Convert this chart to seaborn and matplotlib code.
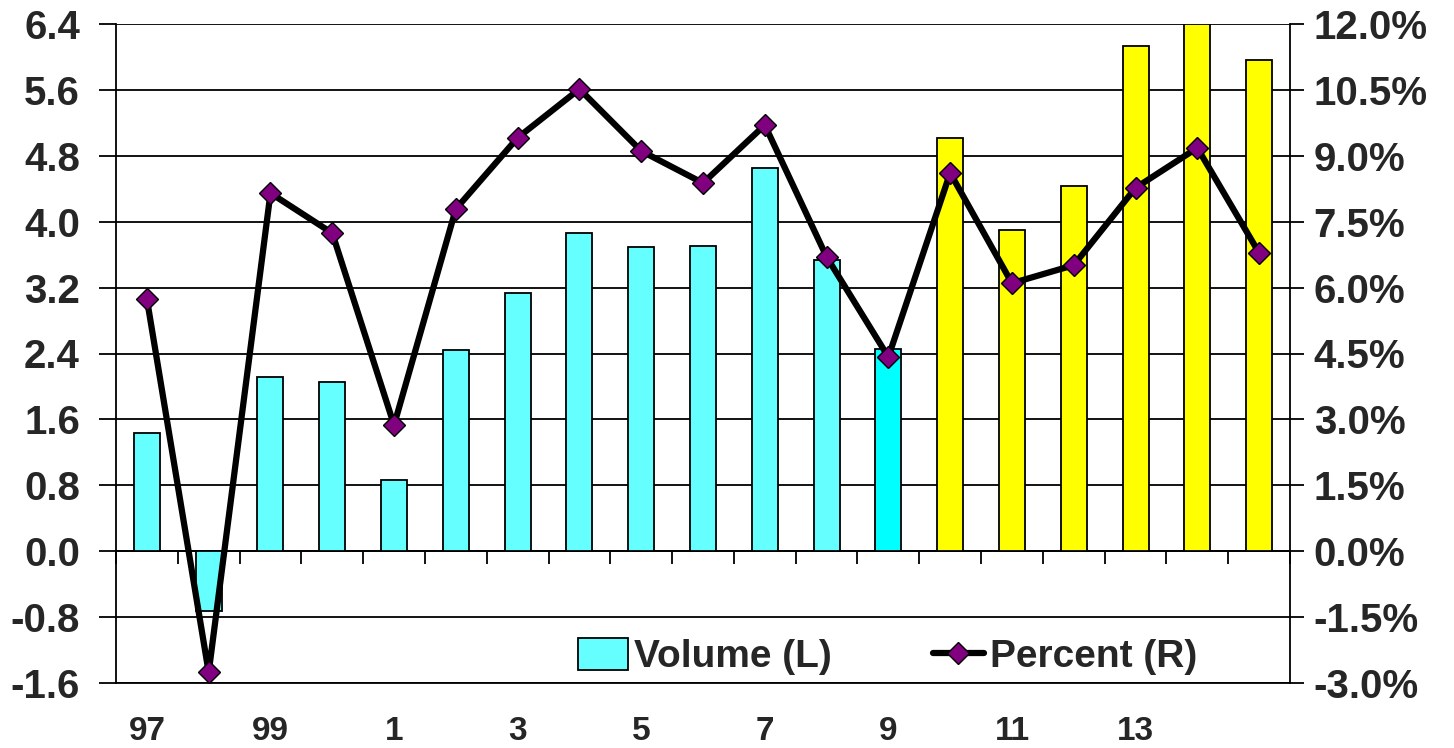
import numpy as np
import matplotlib
matplotlib.use("Agg")
import matplotlib.pyplot as plt
import seaborn as sns
from matplotlib.patches import Patch
from matplotlib.lines import Line2D
from matplotlib.ticker import FuncFormatter, MultipleLocator

years = ["97", "98", "99", "00", "1", "2", "3", "4", "5", "6", "7",
         "8", "9", "10", "11", "12", "13", "14", "15"]
shown_labels = ["97", "", "99", "", "1", "", "3", "", "5", "", "7",
                "", "9", "", "11", "", "13", "", ""]
volume = [1.44, -0.73, 2.12, 2.05, 0.86, 2.44, 3.14, 3.86, 3.69, 3.71, 4.65,
          3.54, 2.45, 5.02, 3.90, 4.43, 6.13, 6.40, 5.96]
percent = [5.74, -2.76, 8.15, 7.24, 2.87, 7.79, 9.41, 10.52, 9.11, 8.38, 9.70,
           6.70, 4.42, 8.61, 6.10, 6.51, 8.27, 9.18, 6.79]
bar_colors = ["#66FFFF"] * 12 + ["#00FFFF"] + ["#FFFF00"] * 6

sns.set_theme(style="white")
plt.rcParams["font.family"] = ["Liberation Sans", "DejaVu Sans"]
plt.rcParams["font.weight"] = "bold"

fig = plt.figure(figsize=(14.54, 7.48), dpi=100)
ax = fig.add_axes([116 / 1454, 1 - 683 / 748, (1290 - 116) / 1454, (683 - 24) / 748])

sns.barplot(x=years, y=volume, hue=years, palette=bar_colors, legend=False,
            width=0.42, edgecolor="black", linewidth=1.3, saturation=1, ax=ax)
ax.set_axisbelow(True)
ax.set_ylim(-1.6, 6.4)
ax.yaxis.set_major_locator(MultipleLocator(0.8))
ax.yaxis.set_major_formatter(FuncFormatter(lambda v, p: f"{v:.1f}"))
ax.yaxis.grid(True, color="black", linewidth=1.3)
ax.xaxis.grid(False)
ax.set_xlim(-0.5, len(years) - 0.5)
ax.set_xticks(range(len(years)))
ax.set_xticklabels(shown_labels)
ax.tick_params(axis="x", length=0, pad=24, labelsize=24)
ax.tick_params(axis="y", direction="out", length=12, width=1.3, color="black",
               pad=14, labelsize=29, left=True)
for lab in ax.get_xticklabels() + ax.get_yticklabels():
    lab.set_fontweight("bold")
for side in ["left", "right", "bottom"]:
    ax.spines[side].set_visible(True)
    ax.spines[side].set_color("black")
    ax.spines[side].set_linewidth(1.3)
ax.spines["top"].set_visible(False)

# category boundary ticks along the zero line
zero_axis = ax.secondary_xaxis(1.6 / 8.0)
zero_axis.set_xticks(np.arange(len(years) + 1) - 0.5)
zero_axis.tick_params(axis="x", direction="out", length=9, width=1.3,
                      color="black", labelbottom=False, bottom=True)
zero_axis.spines["bottom"].set_linewidth(1.3)
zero_axis.spines["bottom"].set_color("black")

ax2 = ax.twinx()
sns.lineplot(x=np.arange(len(years)), y=percent, ax=ax2, color="black",
             linewidth=4.5, marker="D", markersize=11,
             markerfacecolor="#800080", markeredgecolor="black",
             markeredgewidth=1.0, zorder=5)
ax2.set_ylim(-3.0, 12.0)
ax2.yaxis.set_major_locator(MultipleLocator(1.5))
ax2.yaxis.set_major_formatter(FuncFormatter(lambda v, p: f"{v:.1f}%"))
ax2.tick_params(axis="y", direction="out", length=10, width=1.3, color="black",
                pad=7, labelsize=29, right=True)
for lab in ax2.get_yticklabels():
    lab.set_fontweight("bold")
ax2.grid(False)
for side in ax2.spines.values():
    side.set_visible(False)
ax.set_xlim(-0.5, len(years) - 0.5)

handles = [
    Patch(facecolor="#66FFFF", edgecolor="black", linewidth=1.3),
    Line2D([0], [0], color="black", linewidth=4.5, marker="D", markersize=11,
           markerfacecolor="#800080", markeredgecolor="black",
           markeredgewidth=1.0),
]
leg = ax2.legend(handles, ["Volume (L)", "Percent (R)"], ncol=2,
                 loc="center", bbox_to_anchor=(0.657, 0.04), frameon=False,
                 prop={"size": 28, "weight": "bold"}, handlelength=1.3,
                 handleheight=0.9, handletextpad=0.15, columnspacing=2.6,
                 borderaxespad=0)

fig.savefig("out.png", dpi=100)
